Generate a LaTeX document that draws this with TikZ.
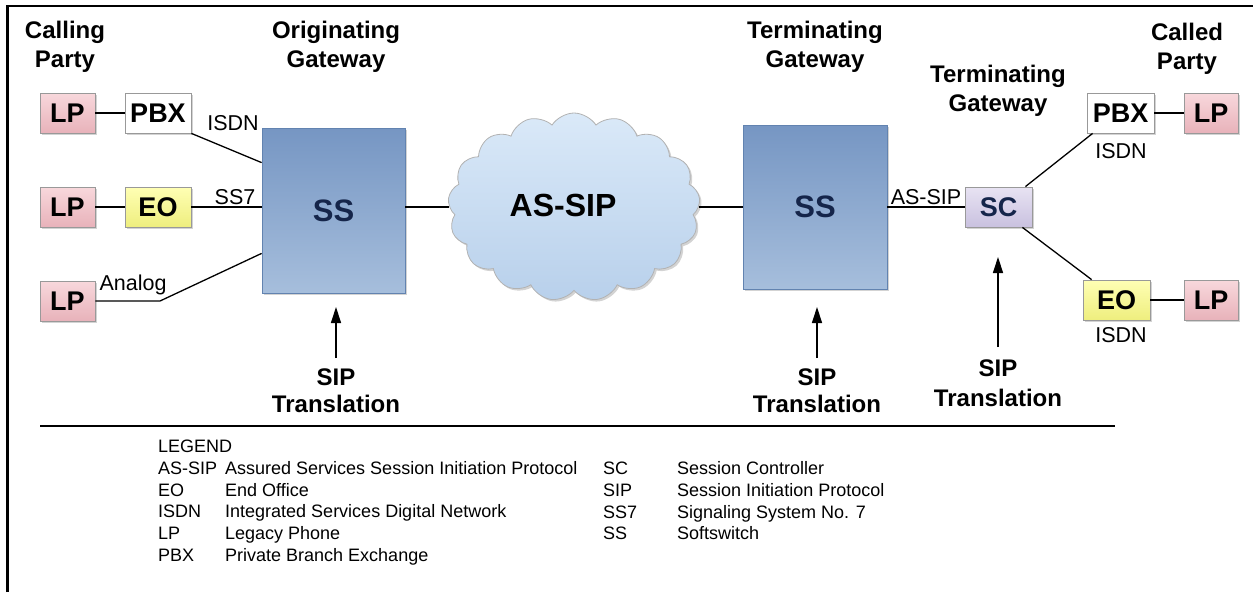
\documentclass[tikz,border=0pt]{standalone}
\usepackage{fontspec}
\setmainfont{Liberation Sans}
\usetikzlibrary{shapes.symbols,shadows,arrows.meta}
\definecolor{lpA}{HTML}{F8D8DC}
\definecolor{lpB}{HTML}{E8B2BA}
\definecolor{eoA}{HTML}{FFFFB4}
\definecolor{eoB}{HTML}{EEEE7E}
\definecolor{scA}{HTML}{E8E3F3}
\definecolor{scB}{HTML}{C9C1DF}
\definecolor{ssA}{HTML}{7696C3}
\definecolor{ssB}{HTML}{A6BEDC}
\definecolor{ssD}{HTML}{6283B0}
\definecolor{clA}{HTML}{DAE9F8}
\definecolor{clB}{HTML}{B8D0EB}
\definecolor{navy}{HTML}{15254A}
\newcommand\abbrL[1]{\makebox[67pt][l]{#1}}
\newcommand\abbrR[1]{\makebox[74pt][l]{#1}}
\begin{document}
\begin{tikzpicture}[x=1pt,y=-1pt,
 shad/.style={drop shadow={opacity=0.35,shadow xshift=2pt,shadow yshift=-2pt}},
 box/.style={draw=black!40,line width=0.8pt,minimum height=40pt,inner sep=0pt,font=\fontsize{27}{30}\selectfont\bfseries,shad},
 lpbox/.style={box,minimum width=55pt,top color=lpA,bottom color=lpB},
 pbxbox/.style={box,minimum width=66pt,fill=white},
 eobox/.style={box,minimum width=66pt,top color=eoA,bottom color=eoB},
 scbox/.style={box,minimum width=67pt,top color=scA,bottom color=scB,text=navy},
 ssbox/.style={draw=ssD,line width=0.8pt,inner sep=0pt,top color=ssA,bottom color=ssB,text=navy,font=\fontsize{31}{34}\selectfont\bfseries,shad},
 title/.style={align=center,inner sep=0pt,anchor=north,font=\fontsize{24}{29}\selectfont\bfseries},
 trans/.style={align=center,inner sep=0pt,anchor=north,font=\fontsize{24}{27}\selectfont\bfseries},
 lbl/.style={inner sep=0pt,anchor=base,font=\fontsize{21.5}{24}\selectfont},
 wire/.style={line width=1.3pt},
 arr/.style={line width=1.3pt,-{Triangle[length=16pt,width=10pt]}},
 legend/.style={anchor=north west,inner sep=0pt,font=\fontsize{18}{21.8}\selectfont},
]
\useasboundingbox (0,0) rectangle (1253,592);
% frame
\draw[line width=2.5pt] (7.5,592) -- (7.5,6) -- (1253,6);

% titles
\node[title] (t1) at (65,20.5) {Calling\\Party};
\node[title] (t2) at (336,20.5) {Originating\\Gateway};
\node[title] (t3) at (815,20.5) {Terminating\\Gateway};
\node[title] (t4) at (998,64.5) {Terminating\\Gateway};
\node[title] (t5) at (1187,22.5) {Called\\Party};

% left side
\node[lpbox] (lp1) at (67.5,113) {LP};
\node[pbxbox] (pbx1) at (158,113) {PBX};
\node[lpbox] (lp2) at (67.5,207) {LP};
\node[eobox] (eo1) at (158,207) {EO};
\node[lpbox] (lp3) at (67.5,301) {LP};
\node[ssbox,minimum width=143pt,minimum height=165pt,text depth=-3pt] (ss1) at (333.5,210.5) {SS};

% cloud
\node[cloud,cloud puffs=17,cloud puff arc=115,aspect=1.35,minimum width=252pt,minimum height=188pt,
      draw=black!30,line width=0.8pt,top color=clA,bottom color=clB,inner sep=0pt,shad] (cloud) at (574,207) {};
\node[inner sep=0pt,font=\fontsize{32}{34}\selectfont\bfseries] (cloudtxt) at (563,205) {AS-SIP};

% right side
\node[ssbox,minimum width=144pt,minimum height=164pt] (ss2) at (815,207) {SS};
\node[scbox] (sc) at (998.5,207) {SC};
\node[pbxbox,minimum width=67pt] (pbx2) at (1120.5,113) {PBX};
\node[lpbox,minimum width=54pt] (lp4) at (1211,113) {LP};
\node[eobox,minimum width=67pt] (eo2) at (1116.5,300) {EO};
\node[lpbox,minimum width=54pt] (lp5) at (1211,300) {LP};

% connectors
\coordinate (bend) at (160,301);
\draw[wire] (lp1.east) -- (pbx1.west);
\draw[wire] (lp2.east) -- (eo1.west);
\draw[wire] (pbx1.south east) -- ([yshift=-35pt]ss1.north west);
\draw[wire] (eo1.east) -- (eo1.east -| ss1.west);
\draw[wire] (lp3.east) -- (bend) -- ([yshift=40pt]ss1.south west);
\draw[wire] (ss1.east |- cloud.west) -- (cloud.west);
\draw[wire] (cloud.east) -- (cloud.east -| ss2.west);
\draw[wire] (sc.west -| ss2.east) -- (sc.west);
\draw[wire] ([xshift=-7pt]sc.north east) -- ([xshift=6pt]pbx2.south west);
\draw[wire] ([xshift=-10pt]sc.south east) -- ([xshift=9pt]eo2.north west);
\draw[wire] (pbx2.east) -- (lp4.west);
\draw[wire] (eo2.east) -- (lp5.west);

% connector labels
\node[lbl] (lisdn1) at (233,130.5) {ISDN};
\node[lbl] (lss7) at (235,204) {SS7};
\node[lbl] (lanalog) at (133,290.5) {Analog};
\node[lbl] (lassip) at (926,204) {AS-SIP};
\node[lbl] (lisdn2) at (1121,158) {ISDN};
\node[lbl] (lisdn3) at (1121,342) {ISDN};

% SIP translation arrows
\node[trans] (tr1) at (336,369) {SIP\\Translation};
\node[trans] (tr2) at (817,369) {SIP\\Translation};
\node[trans,font=\fontsize{24}{30}\selectfont\bfseries] (tr3) at (998,360) {SIP\\Translation};
\coordinate (tip1) at (336,307);
\coordinate (tip2) at (817,307);
\coordinate (tip3) at (998,257);
\draw[arr] ([yshift=11pt]tr1.north) -- (tip1);
\draw[arr] ([yshift=11pt]tr2.north) -- (tip2);
\draw[arr] ([yshift=13pt]tr3.north) -- (tip3);

% legend
\draw[line width=1.5pt] (40,426) -- (1115,426);
\node[legend] (legL) at (158,437.1) {\begin{tabular}{@{}l@{}l@{}}
\multicolumn{2}{@{}l@{}}{LEGEND}\\
\abbrL{AS-SIP} & Assured Services Session Initiation Protocol\\
\abbrL{EO} & End Office\\
\abbrL{ISDN} & Integrated Services Digital Network\\
\abbrL{LP} & Legacy Phone\\
\abbrL{PBX} & Private Branch Exchange
\end{tabular}};
\node[legend] (legR) at (603,459.1) {\begin{tabular}{@{}l@{}l@{}}
\abbrR{SC} & Session Controller\\
\abbrR{SIP} & Session Initiation Protocol\\
\abbrR{SS7} & Signaling System No. 7\\
\abbrR{SS} & Softswitch
\end{tabular}};
\end{tikzpicture}
\end{document}
